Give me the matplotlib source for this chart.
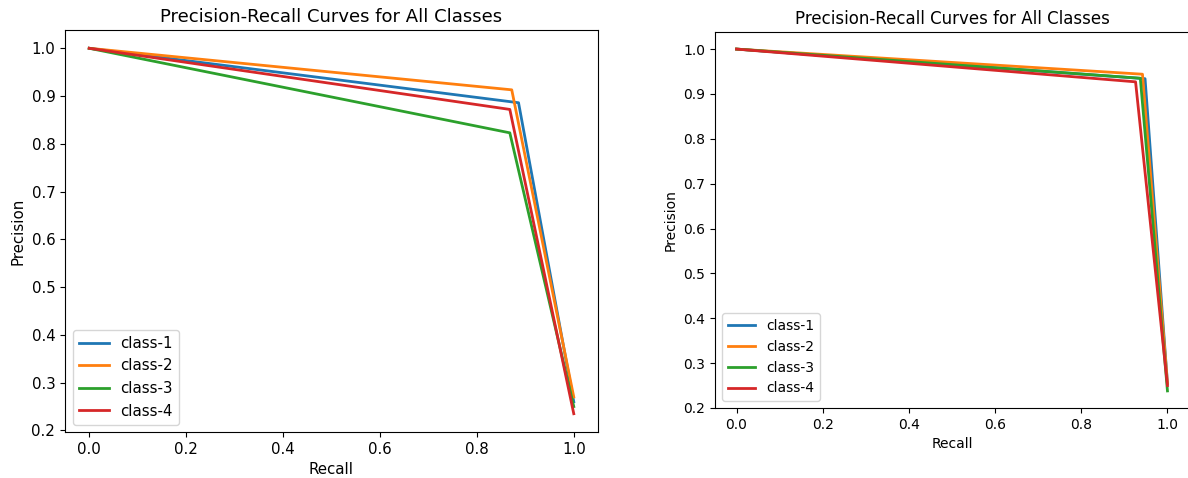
import matplotlib
matplotlib.use("Agg")
import matplotlib.pyplot as plt

classes = ["class-1", "class-2", "class-3", "class-4"]

# left panel: recall / precision per class
left_recall = [
    [0.0, 0.886, 1.0],
    [0.0, 0.872, 1.0],
    [0.0, 0.868, 1.0],
    [0.0, 0.868, 1.0],
]
left_precision = [
    [1.0, 0.886, 0.26],
    [1.0, 0.913, 0.27],
    [1.0, 0.823, 0.25],
    [1.0, 0.872, 0.235],
]

# right panel
right_recall = [
    [0.0, 0.948, 1.0],
    [0.0, 0.942, 1.0],
    [0.0, 0.937, 1.0],
    [0.0, 0.926, 1.0],
]
right_precision = [
    [1.0, 0.934, 0.255],
    [1.0, 0.944, 0.255],
    [1.0, 0.935, 0.238],
    [1.0, 0.927, 0.25],
]

W, H = 1188, 478
fig = plt.figure(figsize=(W / 100, H / 100), dpi=100)


def draw(ax, recall, precision, fs):
    for name, r, p in zip(classes, recall, precision):
        ax.plot(r, p, lw=2, label=name)
    ax.set_title("Precision-Recall Curves for All Classes", fontsize=fs * 1.2)
    ax.set_xlabel("Recall", fontsize=fs)
    ax.set_ylabel("Precision", fontsize=fs)
    ax.tick_params(labelsize=fs)
    ax.legend(loc="lower left", fontsize=fs)


ax1 = fig.add_axes([65 / W, (H - 432) / H, 533 / W, 402 / H])
draw(ax1, left_recall, left_precision, 10.8)

ax2 = fig.add_axes([715 / W, (H - 408) / H, 474 / W, 376 / H])
draw(ax2, right_recall, right_precision, 10)

fig.savefig("out.png", dpi=100)
